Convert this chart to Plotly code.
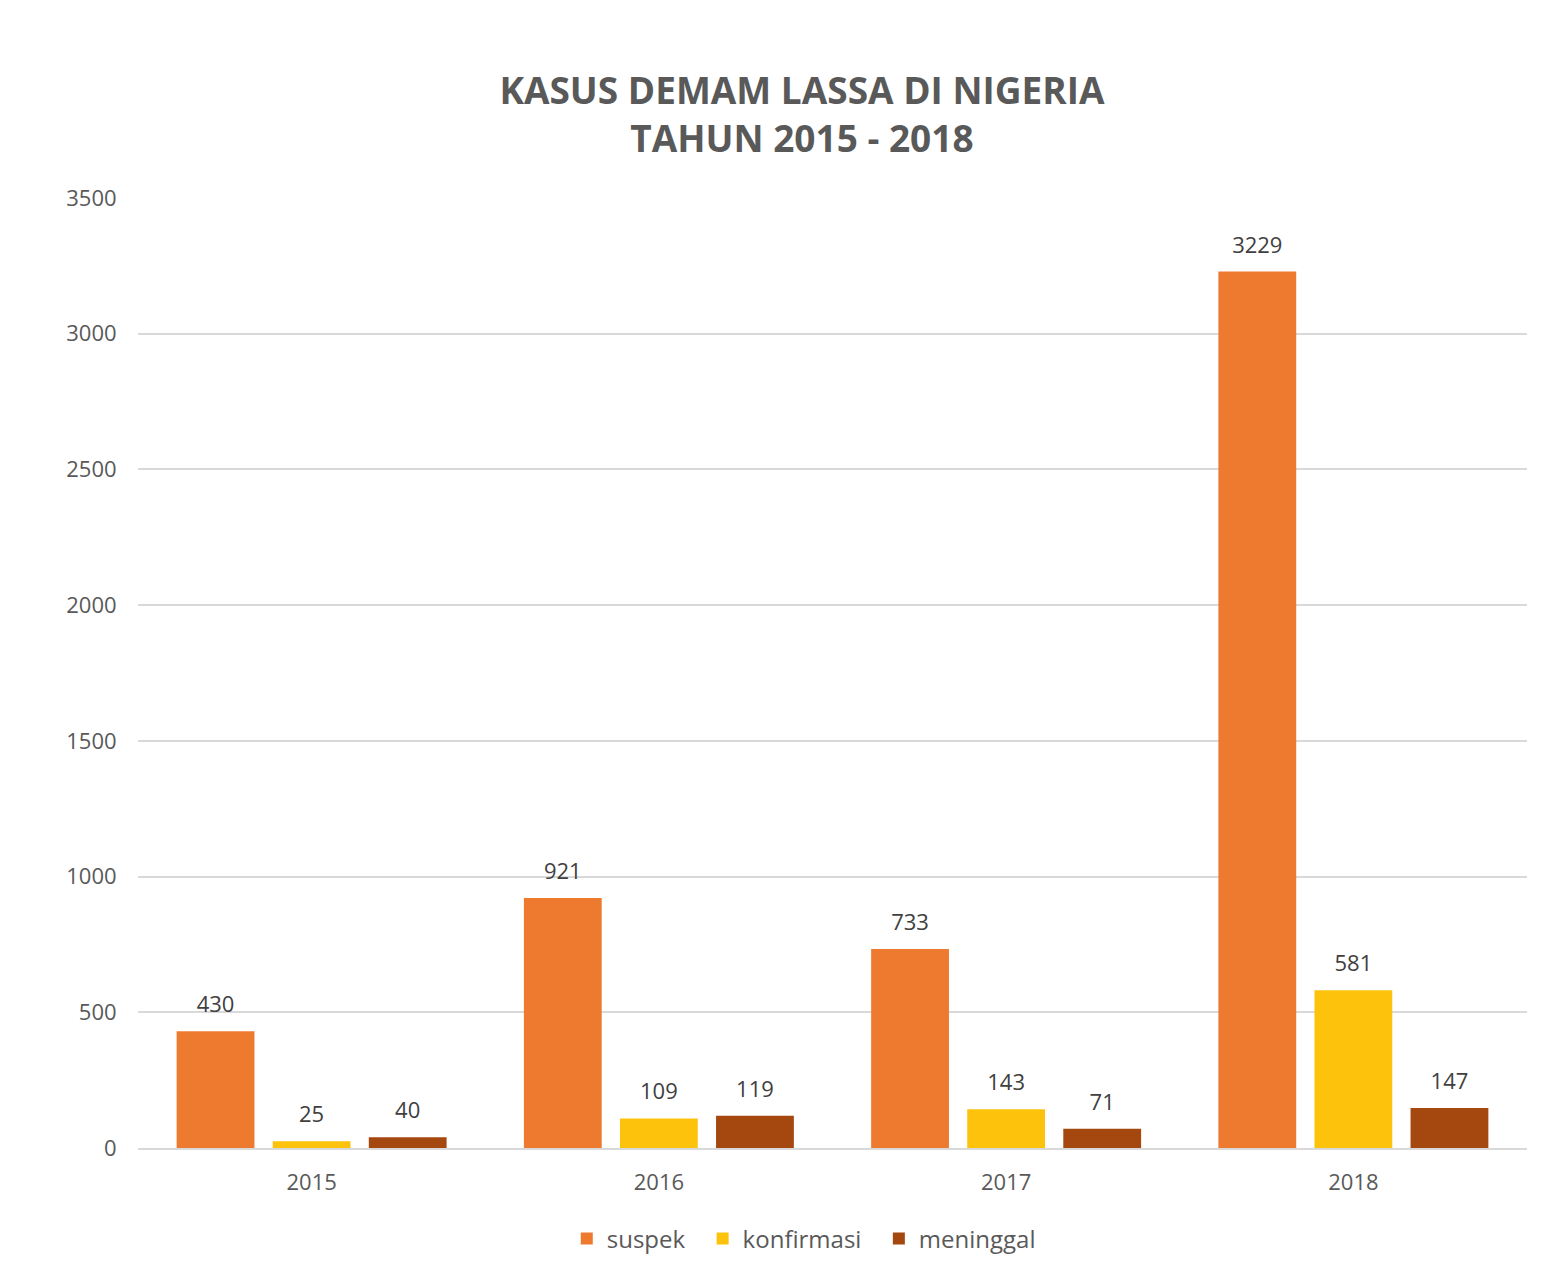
import plotly.graph_objects as go

years = ["2015", "2016", "2017", "2018"]
suspek = [430, 921, 733, 3229]
konfirmasi = [25, 109, 143, 581]
meninggal = [40, 119, 71, 147]
y_ticks = [0, 500, 1000, 1500, 2000, 2500, 3000, 3500]

series = [
    ("suspek", suspek, "#EE7A30"),
    ("konfirmasi", konfirmasi, "#FDC20C"),
    ("meninggal", meninggal, "#A4480F"),
]

FONT = "Open Sans, Noto Sans, sans-serif"
NBSP = "\u00a0\u00a0"

fig = go.Figure()
for name, vals, color in series:
    fig.add_trace(go.Bar(
        name=name + NBSP, x=years, y=vals,
        marker=dict(color=color, line=dict(width=0)),
        offsetgroup=name, alignmentgroup="a",
        hoverinfo="x+y",
    ))
for name, vals, color in series:
    fig.add_trace(go.Scatter(
        x=years, y=vals, mode="markers+text",
        text=[str(v) for v in vals], textposition="top center",
        textfont=dict(size=22, color="#404040", family=FONT),
        marker=dict(size=20, color="rgba(0,0,0,0)"),
        offsetgroup=name, alignmentgroup="a",
        showlegend=False, hoverinfo="skip", cliponaxis=False,
    ))

fig.update_layout(
    width=1550, height=1276,
    paper_bgcolor="white", plot_bgcolor="white",
    font=dict(family=FONT, color="#595959"),
    title=dict(
        text="<b>KASUS DEMAM LASSA DI NIGERIA<br>TAHUN 2015 - 2018</b>",
        x=0.478, xanchor="center", xref="paper", y=0.925, yanchor="top",
        font=dict(size=37, color="#595959", family=FONT),
    ),
    barmode="group", bargap=0.17, bargroupgap=0.19,
    scattermode="group", scattergap=0.17,
    margin=dict(l=130, r=31, t=190, b=136),
    showlegend=True,
    legend=dict(
        orientation="h", x=0.484, xanchor="center", y=-0.072, yanchor="top",
        font=dict(size=24, color="#595959", family=FONT),
        itemwidth=30, traceorder="normal",
    ),
    xaxis=dict(
        showgrid=False, showline=True, linecolor="#D9D9D9", linewidth=2,
        ticks="outside", ticklen=14, tickcolor="rgba(0,0,0,0)",
        tickfont=dict(size=22, color="#595959"),
    ),
    yaxis=dict(
        range=[0, 3500], tickvals=y_ticks, showgrid=True,
        gridcolor="#D9D9D9", gridwidth=1.5, zeroline=False, showline=False,
        tickfont=dict(size=22, color="#595959"), ticks="outside",
        ticklen=16, tickcolor="rgba(0,0,0,0)",
    ),
)

fig.write_html("out.html")
